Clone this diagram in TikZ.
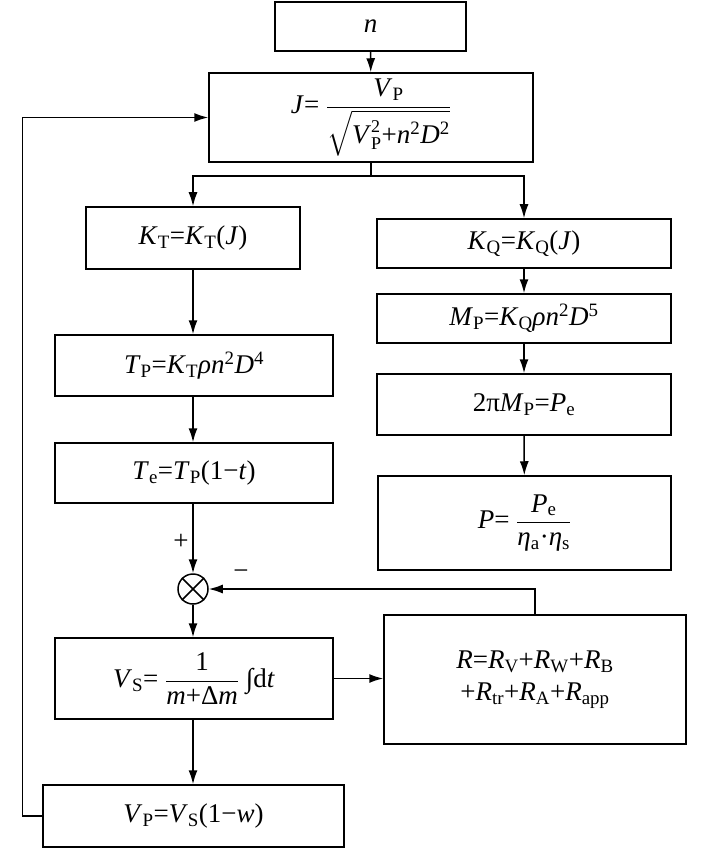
\documentclass[tikz,border=0pt]{standalone}
\usepackage{amsmath}
\usepackage{fontspec}
\setmainfont{Liberation Serif}
\usetikzlibrary{arrows.meta}
\newcommand\Ti[1]{\textit{#1}}
\newcommand\Sb[1]{\textsubscript{#1}}
\newcommand\Sp[1]{\textsuperscript{#1}}
\newcommand\Ssz{\fontsize{18}{18}\selectfont}
\begin{document}
\begin{tikzpicture}[x=1pt,y=-1pt,
  font=\fontsize{27}{32}\selectfont,
  box/.style={draw, line width=1.5pt, inner sep=0pt, anchor=center},
  arr/.style={line width=1.5pt, -{Latex[length=14pt,width=9pt]}},
  ln/.style={line width=1.5pt}]
\useasboundingbox (0,0) rectangle (709,850);
% left column
\node[box, minimum width=191pt, minimum height=49pt] (n) at (370.5,26.5) {\Ti{n}};
\node[box, minimum width=324pt, minimum height=89pt] (J) at (371,117.5)
  {\Ti{J}= $\dfrac{\mbox{\Ti{V}\Sb{P}}}{\sqrt{\mbox{\Ti{V}}^{\mbox{\Ssz 2}}_{\mbox{\Ssz P}}\mbox{+\Ti{n}\Sp{2}\Ti{D}\Sp{2}}}}$};
\node[box, minimum width=214pt, minimum height=62pt] (KT) at (193,238)
  {\Ti{K}\Sb{T}=\Ti{K}\Sb{T}(\Ti{J})};
\node[box, minimum width=278pt, minimum height=61pt] (TP) at (194,365.5)
  {\Ti{T}\Sb{P}=\Ti{K}\Sb{T}\Ti{ρn}\Sp{2}\Ti{D}\Sp{4}};
\node[box, minimum width=278pt, minimum height=60pt] (Te) at (194,473)
  {\Ti{T}\Sb{e}=\Ti{T}\Sb{P}(1−\Ti{t})};
\node[draw, circle, line width=1.5pt, minimum size=30pt, inner sep=0pt] (sum) at (193,589) {};
\draw[line width=1.5pt] (sum.north west) -- (sum.south east) (sum.north east) -- (sum.south west);
\node[box, minimum width=278pt, minimum height=81pt] (VS) at (194,678.5)
  {\Ti{V}\Sb{S}= $\dfrac{\mbox{1}}{\mbox{\Ti{m}+Δ\Ti{m}}}$ ∫d\Ti{t}};
\node[box, minimum width=301pt, minimum height=62pt] (VP) at (193.5,816)
  {\Ti{V}\Sb{P}=\Ti{V}\Sb{S}(1−\Ti{w})};
% right column
\node[box, minimum width=294pt, minimum height=49pt] (KQ) at (524,243.5)
  {\Ti{K}\Sb{Q}=\Ti{K}\Sb{Q}(\Ti{J})};
\node[box, minimum width=294pt, minimum height=49pt] (MP) at (524,318.5)
  {\Ti{M}\Sb{P}=\Ti{K}\Sb{Q}\Ti{ρn}\Sp{2}\Ti{D}\Sp{5}};
\node[box, minimum width=294pt, minimum height=61pt] (Pe) at (524,404.5)
  {2π\Ti{M}\Sb{P}=\Ti{P}\Sb{e}};
\node[box, minimum width=293pt, minimum height=94pt] (P) at (524.5,523)
  {\Ti{P}= $\dfrac{\mbox{\Ti{P}\Sb{e}}}{\mbox{\Ti{η}\Sb{a}·\Ti{η}\Sb{s}}}$};
\node[box, minimum width=302pt, minimum height=129pt, align=center] (R) at (535,679.5)
  {\Ti{R}=\Ti{R}\Sb{V}+\Ti{R}\Sb{W}+\Ti{R}\Sb{B}\\+\Ti{R}\Sb{tr}+\Ti{R}\Sb{A}+\Ti{R}\Sb{app}};
% signs
\node (plus) at (181,542) {+};
\node (minus) at (241,575) {−};
% connectors
\coordinate (br) at (371,176);
\draw[arr] (n) -- (J);
\draw[ln] (J.south) -- (br);
\draw[arr] (br) -| (KT.north);
\draw[arr] (br) -| (KQ.north);
\draw[arr] (KT) -- (TP.north -| KT.south);
\draw[arr] (TP.south -| sum) -- (Te.north -| sum);
\draw[arr] (Te.south -| sum) -- (sum.north);
\draw[arr] (sum.south) -- (VS.north -| sum);
\draw[arr] (VS.south -| sum) -- (VP.north -| sum);
\draw[arr] (KQ) -- (MP);
\draw[arr] (MP) -- (Pe);
\draw[arr] (Pe) -- (P);
\draw[arr] (VS.east) -- (R.west |- VS.east);
\draw[arr] (R.north) |- (sum.east);
\draw[arr] (VP.west) -- ++(-20,0) |- (J.west);
\end{tikzpicture}
\end{document}
